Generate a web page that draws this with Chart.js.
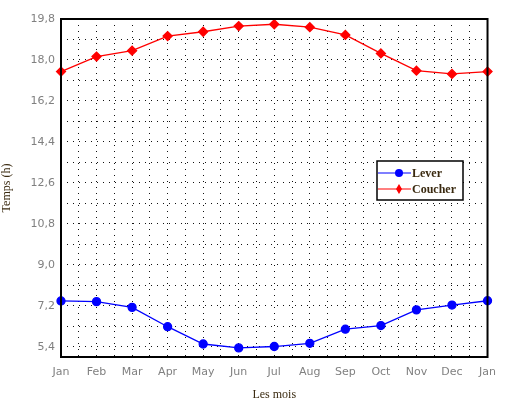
<!DOCTYPE html>
<html>
<head>
<meta charset="utf-8">
<script src="https://cdn.jsdelivr.net/npm/chart.js@4"></script>
<style>
  html, body { margin: 0; padding: 0; background: #fff; }
  #wrap { width: 505px; height: 406px; }
</style>
</head>
<body>
<div id="wrap"><canvas id="c" width="505" height="406"></canvas></div>
<script>
// Month labels along the horizontal axis (year wraps back to January)
const months = ['Jan','Feb','Mar','Apr','May','Jun','Jul','Aug','Sep','Oct','Nov','Dec','Jan'];

// Sunrise / sunset times in hours
const lever   = [7.42, 7.39, 7.14, 6.29, 5.53, 5.36, 5.42, 5.56, 6.18, 6.34, 7.03, 7.24, 7.43];
const coucher = [17.49, 18.15, 18.41, 19.05, 19.24, 19.49, 19.57, 19.44, 19.10, 18.29, 17.53, 17.39, 17.49];

// Labelled values on the time axis
const yTicks      = [5.4, 7.2, 9.0, 10.8, 12.6, 14.4, 16.2, 18.0, 19.8];
const yTickLabels = ['5,4', '7,2', '9,0', '10,8', '12,6', '14,4', '16,2', '18,0', '19,8'];

const toPoints = arr => arr.map((v, i) => ({ x: i, y: v }));

// Dotted grid: labelled values plus one line halfway between each pair
const yGrid = [];
yTicks.forEach((v, i) => {
  yGrid.push(v);
  if (i < yTicks.length - 1) yGrid.push((v + yTicks[i + 1]) / 2);
});

// Solid frame around the plotting area
const framePlugin = {
  id: 'frame',
  afterDatasetsDraw(chart) {
    const a = chart.chartArea, ctx = chart.ctx;
    ctx.save();
    ctx.strokeStyle = '#000';
    ctx.lineWidth = 2;
    ctx.strokeRect(a.left, a.top, a.right - a.left, a.bottom - a.top);
    ctx.restore();
  }
};

// Boxed legend inside the plot, right side
const legendBox = {
  id: 'legendBox',
  afterDraw(chart) {
    const ctx = chart.ctx;
    const x = 377, y = 161, w = 86, h = 39;
    ctx.save();
    ctx.fillStyle = '#fff';
    ctx.fillRect(x, y, w, h);
    ctx.strokeStyle = '#000';
    ctx.lineWidth = 1.5;
    ctx.strokeRect(x, y, w, h);
    chart.data.datasets.forEach((ds, i) => {
      const ly = y + 12 + i * 16;
      ctx.strokeStyle = ds.borderColor;
      ctx.lineWidth = 1.2;
      ctx.beginPath();
      ctx.moveTo(x + 1, ly);
      ctx.lineTo(x + 34, ly);
      ctx.stroke();
      ctx.fillStyle = ds.borderColor;
      ctx.beginPath();
      if (ds.pointStyle === 'rectRot') {
        ctx.moveTo(x + 22, ly - 5);
        ctx.lineTo(x + 25, ly);
        ctx.lineTo(x + 22, ly + 5);
        ctx.lineTo(x + 19, ly);
        ctx.closePath();
      } else {
        ctx.arc(x + 22, ly, 4, 0, Math.PI * 2);
      }
      ctx.fill();
      ctx.fillStyle = '#3a2a10';
      ctx.font = 'bold 12px "Liberation Serif", "DejaVu Serif", serif';
      ctx.textBaseline = 'middle';
      ctx.textAlign = 'left';
      ctx.fillText(ds.label, x + 35, ly + 1);
    });
    ctx.restore();
  }
};

new Chart(document.getElementById('c'), {
  type: 'line',
  data: {
    datasets: [
      {
        label: 'Lever',
        data: toPoints(lever),
        borderColor: '#0000ff',
        backgroundColor: '#0000ff',
        borderWidth: 1.3,
        pointStyle: 'circle',
        pointRadius: 4,
        pointHoverRadius: 4,
        tension: 0
      },
      {
        label: 'Coucher',
        data: toPoints(coucher),
        borderColor: '#ff0000',
        backgroundColor: '#ff0000',
        borderWidth: 1.3,
        pointStyle: 'rectRot',
        pointRadius: 4.5,
        pointHoverRadius: 4.5,
        tension: 0
      }
    ]
  },
  options: {
    responsive: false,
    animation: false,
    clip: false,
    layout: { padding: { top: 19, right: 12, left: 0, bottom: 0 } },
    plugins: {
      legend: { display: false },
      tooltip: { enabled: false }
    },
    scales: {
      x: {
        type: 'linear',
        min: 0,
        max: months.length - 1,
        afterBuildTicks(scale) {
          const t = [];
          for (let i = 0; i <= (months.length - 1) * 2; i++) t.push({ value: i / 2 });
          scale.ticks = t;
        },
        afterFit(scale) { scale.height = 49; },
        border: { display: false, dash: [1, 5] },
        grid: {
          color: '#111',
          lineWidth: 1,
          drawTicks: false
        },
        ticks: {
          autoSkip: false,
          maxRotation: 0,
          padding: 9,
          color: '#808080',
          font: { family: '"DejaVu Sans", sans-serif', size: 11 },
          callback: v => Number.isInteger(v) ? months[v] : ''
        },
        title: {
          display: true,
          text: 'Les mois',
          color: '#3a2a10',
          padding: { top: 0, bottom: 4 },
          font: { family: '"Liberation Serif", "DejaVu Serif", serif', size: 12 }
        }
      },
      y: {
        min: 4.96,
        max: 19.8,
        afterBuildTicks(scale) {
          scale.ticks = yGrid.map(v => ({ value: v }));
        },
        afterFit(scale) { scale.width = 61; },
        border: { display: false, dash: [1, 5] },
        grid: {
          color: '#111',
          lineWidth: 1,
          drawTicks: false
        },
        ticks: {
          padding: 6,
          color: '#808080',
          font: { family: '"DejaVu Sans", sans-serif', size: 11 },
          callback: v => {
            const k = yTicks.findIndex(t => Math.abs(t - v) < 1e-6);
            return k >= 0 ? yTickLabels[k] : '';
          }
        },
        title: {
          display: true,
          text: 'Temps (h)',
          color: '#3a2a10',
          padding: { top: 0, bottom: 4 },
          font: { family: '"Liberation Serif", "DejaVu Serif", serif', size: 12 }
        }
      }
    }
  },
  plugins: [framePlugin, legendBox]
});
</script>
</body>
</html>
